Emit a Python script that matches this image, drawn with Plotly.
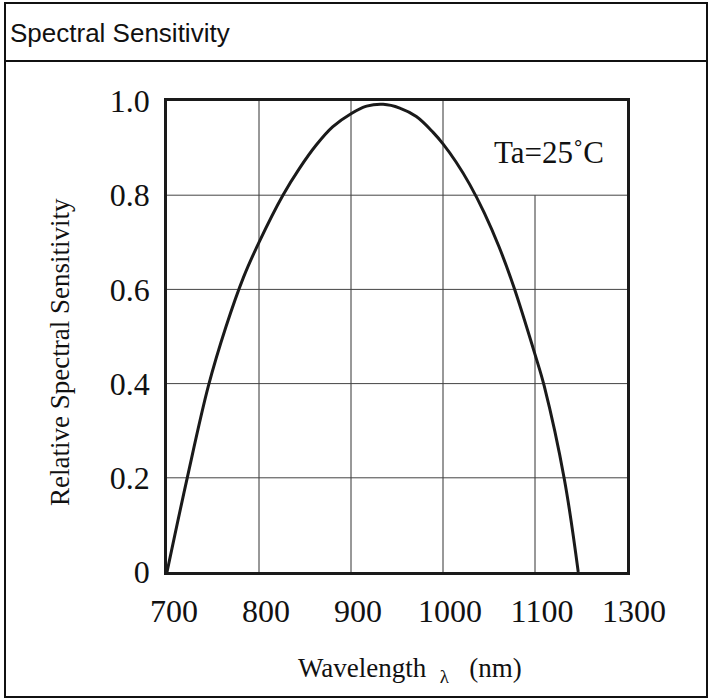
import plotly.graph_objects as go

# Data
wavelength_nm = [700, 722, 745, 764, 783, 800, 826, 844, 862, 880, 900, 917,
                 935, 953, 971, 989, 1000, 1014, 1029, 1045, 1061, 1077,
                 1100, 1110, 1132, 1147]
relative_sensitivity = [0.0, 0.2, 0.395, 0.52, 0.625, 0.70, 0.80, 0.857, 0.906,
                        0.945, 0.973, 0.989, 0.993, 0.985, 0.967, 0.934, 0.909,
                        0.871, 0.823, 0.762, 0.69, 0.605, 0.462, 0.395, 0.196, 0.0]

x_tick_vals = [700, 800, 900, 1000, 1100, 1200]
x_tick_text = ["700", "800", "900", "1000", "1100", "1300"]
y_tick_vals = [0, 0.2, 0.4, 0.6, 0.8, 1.0]
y_tick_text = ["0", "0.2", "0.4", "0.6", "0.8", "1.0"]

SERIF = "Liberation Serif, Times New Roman, serif"
SANS = "Liberation Sans, Arial, sans-serif"

fig = go.Figure()
fig.add_trace(go.Scatter(
    x=wavelength_nm, y=relative_sensitivity, mode="lines",
    line=dict(color="#1a1a1a", width=3, shape="spline", smoothing=1.0),
    hoverinfo="skip", showlegend=False,
))

shapes = []
# gridlines (1100 line stops at 0.8 under the Ta label)
for xv in [800, 900, 1000]:
    shapes.append(dict(type="line", xref="x", yref="y", x0=xv, x1=xv, y0=0, y1=1.0,
                       line=dict(color="#333333", width=1), layer="below"))
shapes.append(dict(type="line", xref="x", yref="y", x0=1100, x1=1100, y0=0, y1=0.8,
                   line=dict(color="#333333", width=1), layer="below"))
for yv in [0.2, 0.4, 0.6, 0.8]:
    shapes.append(dict(type="line", xref="x", yref="y", x0=700, x1=1200, y0=yv, y1=yv,
                       line=dict(color="#444444", width=1), layer="below"))
# outer border and header separator (paper coords relative to plot area)
L, R, T, B = 167, 627, 101, 572
W = R - L
H = B - T
def px(x):
    return (x - L) / W
def py(y):
    return (B - y) / H
shapes.append(dict(type="rect", xref="paper", yref="paper",
                   x0=px(5), x1=px(707), y0=py(697), y1=py(3),
                   line=dict(color="#111111", width=2)))
shapes.append(dict(type="line", xref="paper", yref="paper",
                   x0=px(5), x1=px(707), y0=py(61), y1=py(61),
                   line=dict(color="#111111", width=2)))

fig.update_layout(
    width=712, height=700,
    margin=dict(l=L, r=712 - R, t=T, b=700 - B, pad=0),
    paper_bgcolor="white", plot_bgcolor="white",
    shapes=shapes,
    showlegend=False,
    annotations=[
        dict(text="Spectral Sensitivity", xref="paper", yref="paper",
             x=px(8), y=py(33), xanchor="left", yanchor="middle", showarrow=False,
             font=dict(family=SANS, size=26, color="#111111")),
        dict(text="Ta=25˚C", xref="paper", yref="paper",
             x=px(549), y=py(152), xanchor="center", yanchor="middle", showarrow=False,
             font=dict(family=SERIF, size=31, color="#111111")),
        dict(text="Relative Spectral Sensitivity", xref="paper", yref="paper",
             x=px(60), y=py(352), xanchor="center", yanchor="middle", showarrow=False,
             textangle=-90,
             font=dict(family=SERIF, size=27, color="#111111")),
        dict(text="Wavelength\u00a0\u00a0<sub>λ</sub>\u00a0\u00a0\u00a0(nm)",
             xref="paper", yref="paper",
             x=px(410), y=py(670), xanchor="center", yanchor="middle", showarrow=False,
             font=dict(family=SERIF, size=27, color="#111111")),
    ],
)

fig.update_xaxes(
    range=[700, 1200], tickvals=x_tick_vals, ticktext=x_tick_text,
    showgrid=False, zeroline=False,
    showline=True, mirror=True, linecolor="#1a1a1a", linewidth=2.5,
    ticks="", ticklabelstandoff=9, ticklabelshift=7,
    tickfont=dict(family=SERIF, size=32, color="#111111"),
)
fig.update_yaxes(
    range=[0, 1.0], tickvals=y_tick_vals, ticktext=y_tick_text,
    showgrid=False, zeroline=False,
    showline=True, mirror=True, linecolor="#1a1a1a", linewidth=2.5,
    ticks="", ticklabelstandoff=8,
    tickfont=dict(family=SERIF, size=32, color="#111111"),
)

fig.write_html("out.html", post_script="document.body.style.margin='0';",
               config={"displayModeBar": False})
